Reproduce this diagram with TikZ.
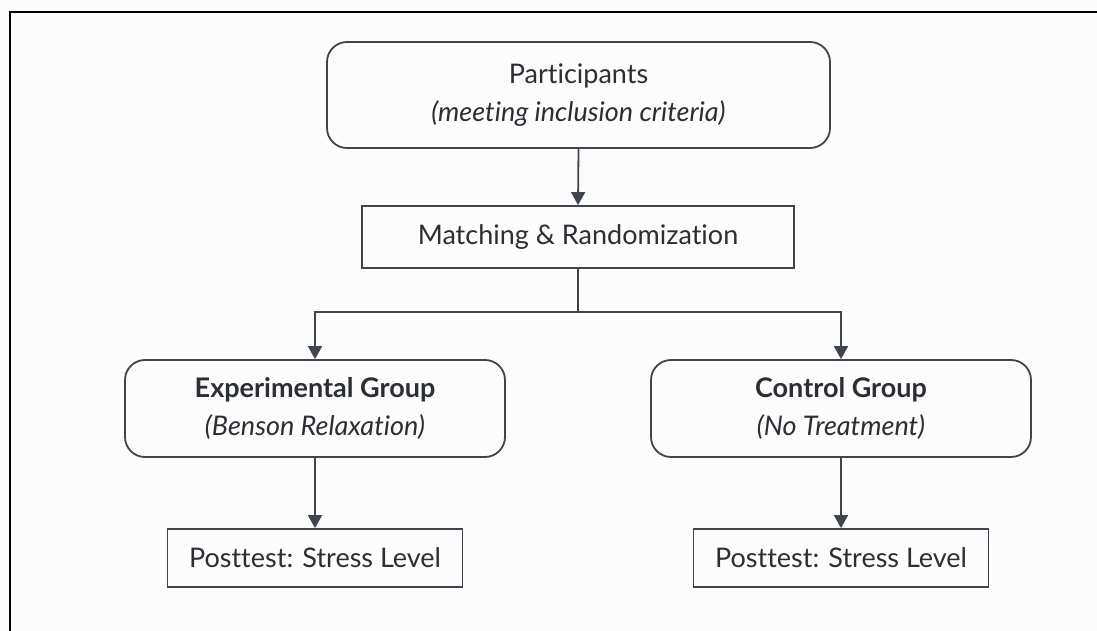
\documentclass[tikz,border=0pt]{standalone}
\usepackage{fontspec}
\setmainfont[Ligatures=NoCommon]{Lato}
\usetikzlibrary{arrows.meta}
\definecolor{strk}{HTML}{40444C}
\definecolor{txt}{HTML}{2B2E33}
\definecolor{bg}{HTML}{FCFCFC}
\tikzset{
  roundbox/.style={draw=strk, line width=1.8pt, rounded corners=20pt, inner sep=0pt, align=center, text=txt, font=\fontsize{27}{38.5}\selectfont},
  sqbox/.style={draw=strk, line width=1.8pt, inner sep=0pt, align=center, text=txt, font=\fontsize{27}{32}\selectfont},
  conn/.style={draw=strk, line width=1.8pt},
  arr/.style={conn, -{Triangle[width=14pt,length=13pt]}},
}
\begin{document}
\begin{tikzpicture}[x=1pt,y=-1pt]
\fill[bg] (0,0) rectangle (1097,631);
\useasboundingbox (0,0) rectangle (1097,631);
\draw[black, line width=2pt] (10,631) -- (10,12) -- (1097,12);

\node[roundbox, minimum width=503pt, minimum height=106pt] (part) at (578.5,95) {Participants\\\textit{(meeting inclusion criteria)}};
\node[sqbox, minimum width=432pt, minimum height=62pt] (match) at (578,237) {Matching \& Randomization};
\node[roundbox, minimum width=380pt, minimum height=97pt] (exp) at (315,408.5) {\textbf{Experimental Group}\\\textit{(Benson Relaxation)}};
\node[roundbox, minimum width=380pt, minimum height=97pt] (ctrl) at (841,408.5) {\textbf{Control Group}\\\textit{(No Treatment)}};
\node[sqbox, minimum width=295pt, minimum height=58pt] (pe) at (315,558) {Posttest: Stress Level};
\node[sqbox, minimum width=295pt, minimum height=58pt] (pc) at (841,558) {Posttest: Stress Level};

\coordinate (split) at (578,312);
\draw[arr] (part.south) -- (match.north);
\draw[conn] (match.south) -- (split);
\draw[arr] (split) -| (exp.north);
\draw[arr] (split) -| (ctrl.north);
\draw[arr] (exp.south) -- (pe.north);
\draw[arr] (ctrl.south) -- (pc.north);
\end{tikzpicture}
\end{document}
